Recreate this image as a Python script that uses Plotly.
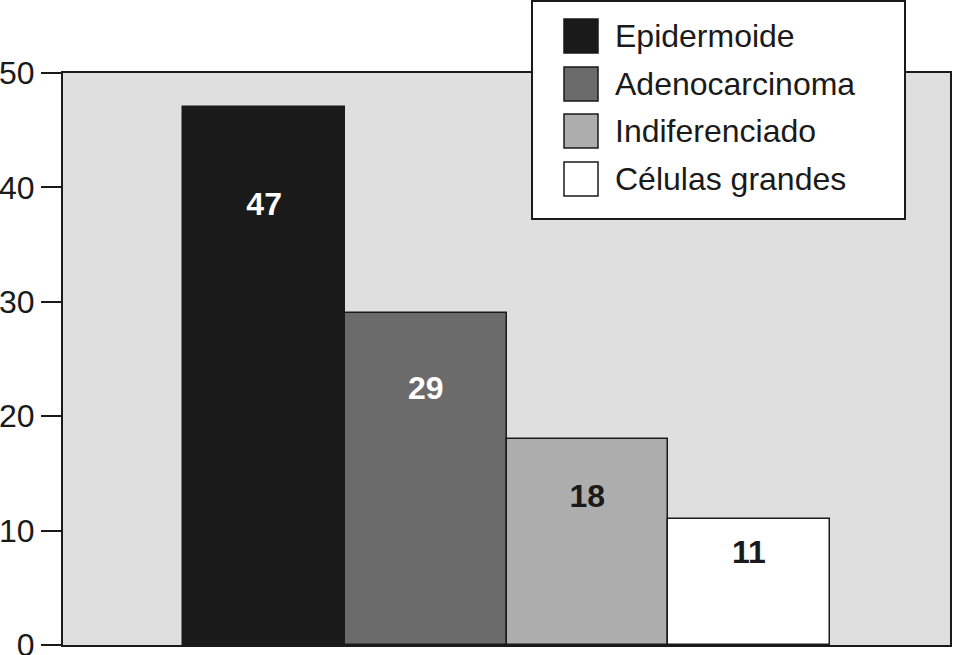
import plotly.graph_objects as go

# ---- data ----
categories = ["Epidermoide", "Adenocarcinoma", "Indiferenciado", "Células grandes"]
values = [47, 29, 18, 11]
label_y = [38.3, 22.2, 12.8, 7.9]          # where the value labels sit
bar_colors = ["#1a1a1a", "#6b6b6b", "#adadad", "#ffffff"]
label_colors = ["#ffffff", "#ffffff", "#1a1a1a", "#1a1a1a"]
y_ticks = [0, 10, 20, 30, 40, 50]

W, H = 953, 655
ML, MR, MT, MB = 63, 3, 73, 10
PW, PH = W - ML - MR, H - MT - MB
FONT = "Liberation Sans, Arial, Helvetica, sans-serif"
INK = "#1a1a1a"

def px_x(x):
    return (x - ML) / PW

def px_y(y):
    return (H - MB - y) / PH

fig = go.Figure()
fig.add_trace(go.Bar(
    x=categories, y=values,
    marker=dict(color=bar_colors, line=dict(color=INK, width=1.5)),
    width=1.0, showlegend=False, hoverinfo="skip",
))
fig.add_trace(go.Scatter(
    x=categories, y=label_y, mode="text",
    text=[str(v) for v in values],
    textfont=dict(family=FONT, size=32, color=label_colors, weight="bold"),
    showlegend=False, hoverinfo="skip",
))

# ---- custom legend ----
shapes = [dict(type="rect", xref="paper", yref="paper",
               x0=px_x(532), x1=px_x(905), y0=px_y(219), y1=px_y(1),
               fillcolor="#ffffff", line=dict(color=INK, width=2), layer="above")]
annotations = []
row_centers = [36, 84, 131, 179]
for cat, col, cy in zip(categories, bar_colors, row_centers):
    shapes.append(dict(type="rect", xref="paper", yref="paper",
                       x0=px_x(564), x1=px_x(598), y0=px_y(cy + 17), y1=px_y(cy - 17),
                       fillcolor=col, line=dict(color=INK, width=1.5), layer="above"))
    annotations.append(dict(xref="paper", yref="paper", x=px_x(613), y=px_y(cy),
                            xanchor="left", yanchor="middle", text=cat, showarrow=False,
                            font=dict(family=FONT, size=32, color=INK)))

fig.update_layout(
    width=W, height=H, autosize=False,
    margin=dict(l=ML, r=MR, t=MT, b=MB, pad=0, autoexpand=False),
    paper_bgcolor="#ffffff", plot_bgcolor="#dfdfdf",
    bargap=0,
    shapes=shapes, annotations=annotations,
    font=dict(family=FONT, color=INK),
)
fig.update_xaxes(
    type="category", range=[-1.245, 4.245], automargin=False,
    showticklabels=False, ticks="", showgrid=False, zeroline=False,
    showline=True, mirror=True, linecolor=INK, linewidth=2,
)
fig.update_yaxes(
    range=[0, 50], tickvals=y_ticks, ticktext=[str(t) for t in y_ticks],
    automargin=False, ticklabeloverflow="allow",
    ticks="outside", ticklen=20, tickwidth=2, tickcolor=INK,
    tickfont=dict(family=FONT, size=32, color=INK),
    showgrid=False, zeroline=False,
    showline=True, mirror=True, linecolor=INK, linewidth=2,
)

fig.write_html("out.html", config={"displayModeBar": False})

# remove the default page margin so the figure sits at the window's corner
with open("out.html", "r", encoding="utf-8") as f:
    html = f.read()
html = html.replace("<body>", '<body style="margin:0;padding:0;overflow:hidden">', 1)
with open("out.html", "w", encoding="utf-8") as f:
    f.write(html)
